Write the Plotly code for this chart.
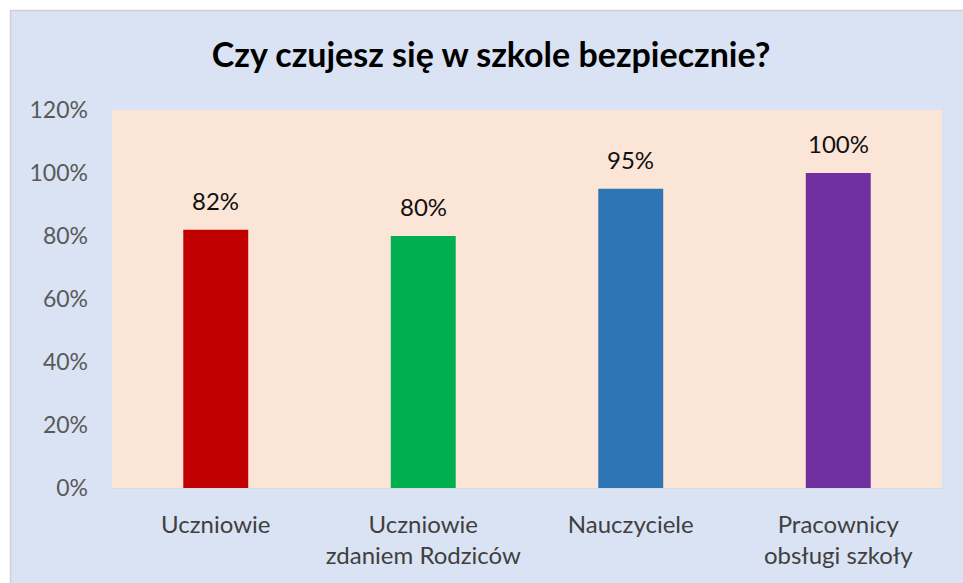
import plotly.graph_objects as go

categories = ["Uczniowie", "Uczniowie<br>zdaniem Rodziców", "Nauczyciele", "Pracownicy<br>obsługi szkoły"]
values = [0.82, 0.80, 0.95, 1.00]
value_labels = ["82%", "80%", "95%", "100%"]
bar_colors = ["#C00000", "#00B050", "#2E75B6", "#7030A0"]
y_ticks = [0, 0.2, 0.4, 0.6, 0.8, 1.0, 1.2]
y_tick_labels = ["0%", "20%", "40%", "60%", "80%", "100%", "120%"]
title_text = "<b>Czy czujesz się w szkole bezpiecznie?</b>"

FONT = "Lato"
W, H = 963, 583
L, R, T, B = 112, 21, 110, 95
pw, ph = W - L - R, H - T - B

fig = go.Figure()
fig.add_trace(go.Bar(
    x=categories, y=values,
    marker=dict(color=bar_colors, line=dict(width=0)),
    width=0.313,
    hoverinfo="skip",
))

for c, v, t in zip(categories, values, value_labels):
    fig.add_annotation(x=c, y=v, text=t, showarrow=False, yanchor="bottom",
                       yshift=13, font=dict(family=FONT, size=24, color="#111111"))

def px2x(p):
    return (p - L) / pw

def py2y(p):
    return 1 - (p - T) / ph

shapes = [
    dict(type="rect", xref="paper", yref="paper", x0=px2x(-5), x1=px2x(W + 5),
         y0=py2y(10), y1=py2y(-5), fillcolor="white", line=dict(width=0), layer="below"),
    dict(type="rect", xref="paper", yref="paper", x0=px2x(-5), x1=px2x(10),
         y0=py2y(H + 5), y1=py2y(-5), fillcolor="white", line=dict(width=0), layer="below"),
    dict(type="line", xref="paper", yref="paper", x0=px2x(10), x1=px2x(W + 5),
         y0=py2y(10.5), y1=py2y(10.5), line=dict(color="#D0D0D0", width=1.5)),
    dict(type="line", xref="paper", yref="paper", x0=px2x(10.5), x1=px2x(10.5),
         y0=py2y(H + 5), y1=py2y(10), line=dict(color="#D0D0D0", width=1.5)),
]

fig.update_layout(
    width=W, height=H,
    margin=dict(l=L, r=R, t=T, b=B, pad=0),
    paper_bgcolor="#DAE3F3",
    plot_bgcolor="#FBE5D6",
    showlegend=False,
    shapes=shapes,
    title=dict(text=title_text, x=0.51, xref="container", xanchor="center",
               y=1 - 55 / H, yref="container", yanchor="middle",
               font=dict(family=FONT, size=34, color="#000000")),
    xaxis=dict(
        showgrid=False, showline=True, linecolor="#D9D9D9", linewidth=1,
        ticks="", ticklabelstandoff=15,
        tickfont=dict(family=FONT, size=24, color="#404040"),
        fixedrange=True,
    ),
    yaxis=dict(
        range=[0, 1.2], tickvals=y_ticks, ticktext=y_tick_labels,
        showgrid=False, zeroline=False, showline=False, ticks="",
        ticklabelstandoff=23,
        tickfont=dict(family=FONT, size=23, color="#595959"),
        fixedrange=True,
    ),
    bargap=0.687,
)

fig.write_html("out.html", config={"displayModeBar": False},
               post_script="document.body.style.margin='0';document.body.style.overflow='hidden';")
